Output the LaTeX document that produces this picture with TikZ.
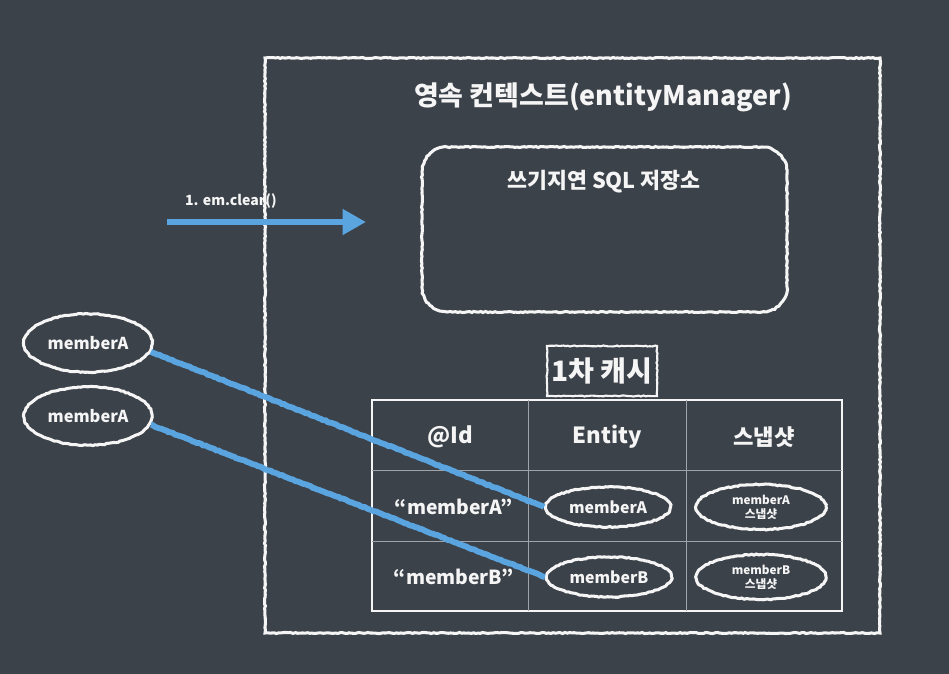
\documentclass[tikz,border=0pt]{standalone}
\usepackage{fontspec}
\setmainfont{Noto Sans CJK KR}
\usepackage{xcolor}
\usepackage{tikz}
\usetikzlibrary{shapes.geometric, arrows.meta, decorations.pathmorphing}
\definecolor{Board}{HTML}{3C424A}
\definecolor{ChalkWhite}{HTML}{F5F5F5}
\definecolor{ChalkBlue}{HTML}{5AA5E0}
\definecolor{GridGray}{HTML}{A0A4AA}

\begin{document}
\begin{tikzpicture}[x=0.03cm, y=-0.03cm,
  chalk/.style={draw=ChalkWhite, line width=2.6pt, decorate,
    decoration={random steps, segment length=2pt, amplitude=0.45pt}},
  blob/.style={chalk, ellipse, inner sep=0pt, text=ChalkWhite, align=center},
  refobj/.style={blob, minimum width=3.85cm, minimum height=1.75cm, font=\bfseries\fontsize{14}{16}\selectfont},
  entobj/.style={blob, minimum width=3.75cm, minimum height=1.2cm, font=\bfseries\fontsize{13.5}{15}\selectfont},
  snapobj/.style={blob, minimum width=3.9cm, minimum height=1.35cm, font=\bfseries\fontsize{10}{12}\selectfont},
  cell/.style={text=ChalkWhite, font=\bfseries\fontsize{19}{22}\selectfont},
  link/.style={draw=ChalkBlue, line width=5pt, decorate,
    decoration={random steps, segment length=2pt, amplitude=0.4pt}}
]

% Board
\fill[Board] (0,0) rectangle (949,674);

% Persistence context
\draw[chalk] (265,58) rectangle (880,633);
\node[text=ChalkWhite, font=\bfseries\fontsize{23}{26}\selectfont] (ctxTitle) at (603,97) {영속 컨텍스트(entityManager)};

\draw[chalk] (447,147) -- (762,147) arc[start angle=-90, end angle=0, radius=25]
  -- (787,287) arc[start angle=0, end angle=90, radius=25]
  -- (447,312) arc[start angle=90, end angle=180, radius=25]
  -- (422,172) arc[start angle=180, end angle=270, radius=25] -- cycle;
\node[text=ChalkWhite, font=\bfseries\fontsize{18.5}{21}\selectfont] (sqlStore) at (604,182) {쓰기지연 SQL 저장소};

% First-level cache
\node[chalk, line width=1.8pt, minimum width=3.3cm, minimum height=1.5cm, text=ChalkWhite,
  font=\bfseries\fontsize{24}{26}\selectfont] (cacheTitle) at (602,371) {1차 캐시};

\draw[ChalkWhite, line width=1.6pt] (372,400) rectangle (842,611);
\draw[GridGray, line width=0.8pt] (528,400) -- (528,611) (686,400) -- (686,611)
  (372,470) -- (842,470) (372,541) -- (842,541);

\node[cell] (hId)     at (450,437) {@Id};
\node[cell] (hEntity) at (607,437) {Entity};
\node[cell] (hSnap)   at (764,437) {스냅샷};
\node[cell, font=\bfseries\fontsize{16.5}{20}\selectfont] (keyA) at (454,507) {“memberA”};
\node[cell, font=\bfseries\fontsize{16.5}{20}\selectfont] (keyB) at (454,577) {“memberB”};

\node[entobj]  (entA)  at (608,507) {memberA};
\node[entobj]  (entB)  at (609,577) {memberB};
\node[snapobj] (snapA) at (761,507) {memberA\\스냅샷};
\node[snapobj] (snapB) at (761,577) {memberB\\스냅샷};

% References
\node[refobj] (refA1) at (88,343) {memberA};
\node[refobj] (refA2) at (88,416) {memberA};

\draw[link] (refA1.-8) -- (entA.west);
\draw[link] (refA2.-8) -- (entB.west);

% em.clear()
\coordinate (clrStart) at (167,222);
\coordinate (clrEnd)   at (366,222);
\draw[link, decorate=false, -{Triangle[length=20pt,width=21pt]}] (clrStart) -- (clrEnd);
\node[text=ChalkWhite, anchor=west, font=\bfseries\fontsize{12}{14}\selectfont] (clrLabel) at (181,201) {1. em.clear()};

\end{tikzpicture}
\end{document}
